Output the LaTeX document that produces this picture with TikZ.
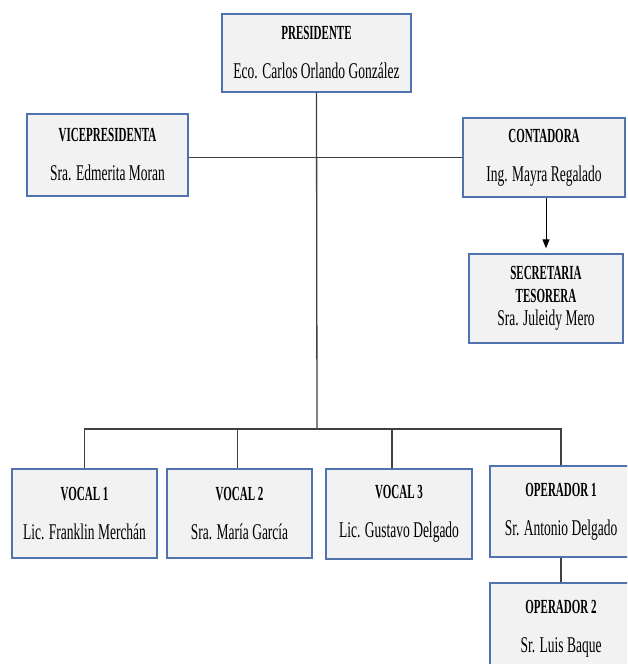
\documentclass[tikz,border=0pt]{standalone}
\usepackage{fontspec}
\setmainfont{Liberation Serif}[FakeStretch=0.6, BoldFeatures={FakeStretch=0.55}]
\usepackage{tikz}
\usetikzlibrary{positioning,arrows.meta}

\definecolor{boxblue}{RGB}{80,115,175}
\definecolor{boxgray}{RGB}{242,242,242}
\definecolor{linegray}{RGB}{64,64,64}

\newcommand{\rolefont}{\fontsize{20}{24}\selectfont\bfseries}
\newcommand{\namefont}{\fontsize{22.5}{27}\selectfont}

\begin{document}
\begin{tikzpicture}[
    x=1pt, y=-1pt,
    card/.style={rectangle, draw=boxblue, fill=boxgray, line width=1.3pt, inner sep=2pt, align=center, font=\namefont},
    link/.style={draw=linegray, line width=1.3pt},
    arrow/.style={-{Triangle[length=9pt,width=7pt]}, draw=black, line width=1pt}
]
\useasboundingbox (0,0) rectangle (627,664);
\clip (0,0) rectangle (627,664);

% Top level
\node[card, minimum width=189pt, minimum height=78pt] (pres) at (316.5,53) {
    {\rolefont PRESIDENTE}\\[12pt]
    Eco. Carlos Orlando González
};

\node[card, minimum width=161pt, minimum height=82pt] (vice) at (107.5,155) {
    {\rolefont VICEPRESIDENTA}\\[12pt]
    Sra. Edmerita Moran
};

\node[card, minimum width=162pt, minimum height=79pt] (cont) at (544,157.5) {
    {\rolefont CONTADORA}\\[12pt]
    Ing. Mayra Regalado
};

\node[card, minimum width=154pt, minimum height=89pt] (secr) at (546,298.5) {
    {\rolefont SECRETARIA}\\[-4pt]
    {\rolefont TESORERA}\\[-4pt]
    Sra. Juleidy Mero
};

% Bottom level
\node[card, minimum width=145pt, minimum height=89pt] (voc1) at (84.5,513.5) {
    {\rolefont VOCAL 1}\\[12pt]
    Lic. Franklin Merchán
};

\node[card, minimum width=145pt, minimum height=89pt] (voc2) at (239.5,513.5) {
    {\rolefont VOCAL 2}\\[12pt]
    Sra. María García
};

\node[card, minimum width=146pt, minimum height=90pt] (voc3) at (399,514) {
    {\rolefont VOCAL 3}\\[12pt]
    Lic. Gustavo Delgado
};

\node[card, minimum width=142pt, minimum height=91pt] (op1) at (561,511.5) {
    {\rolefont OPERADOR 1}\\[12pt]
    Sr. Antonio Delgado
};

\node[card, minimum width=142pt, minimum height=91pt] (op2) at (561,628.5) {
    {\rolefont OPERADOR 2}\\[12pt]
    Sr. Luis Baque
};

% Connectors
\coordinate (bus) at (317,429);
\draw[link] (pres.south) -- (bus);
\draw[link] (vice.east |- cont.west) -- (cont.west);
\draw[arrow] (secr.north |- cont.south) -- ([yshift=5pt]secr.north);
\draw[link] (voc1.north) -- (voc1.north |- bus) -- (op1.north |- bus) -- (op1.north);
\draw[link] ([xshift=-2pt]voc2.north) -- ([xshift=-2pt]voc2.north |- bus);
\draw[link] ([xshift=-7pt]voc3.north) -- ([xshift=-7pt]voc3.north |- bus);
\draw[link] (op1.south) -- (op2.north);

\end{tikzpicture}
\end{document}
